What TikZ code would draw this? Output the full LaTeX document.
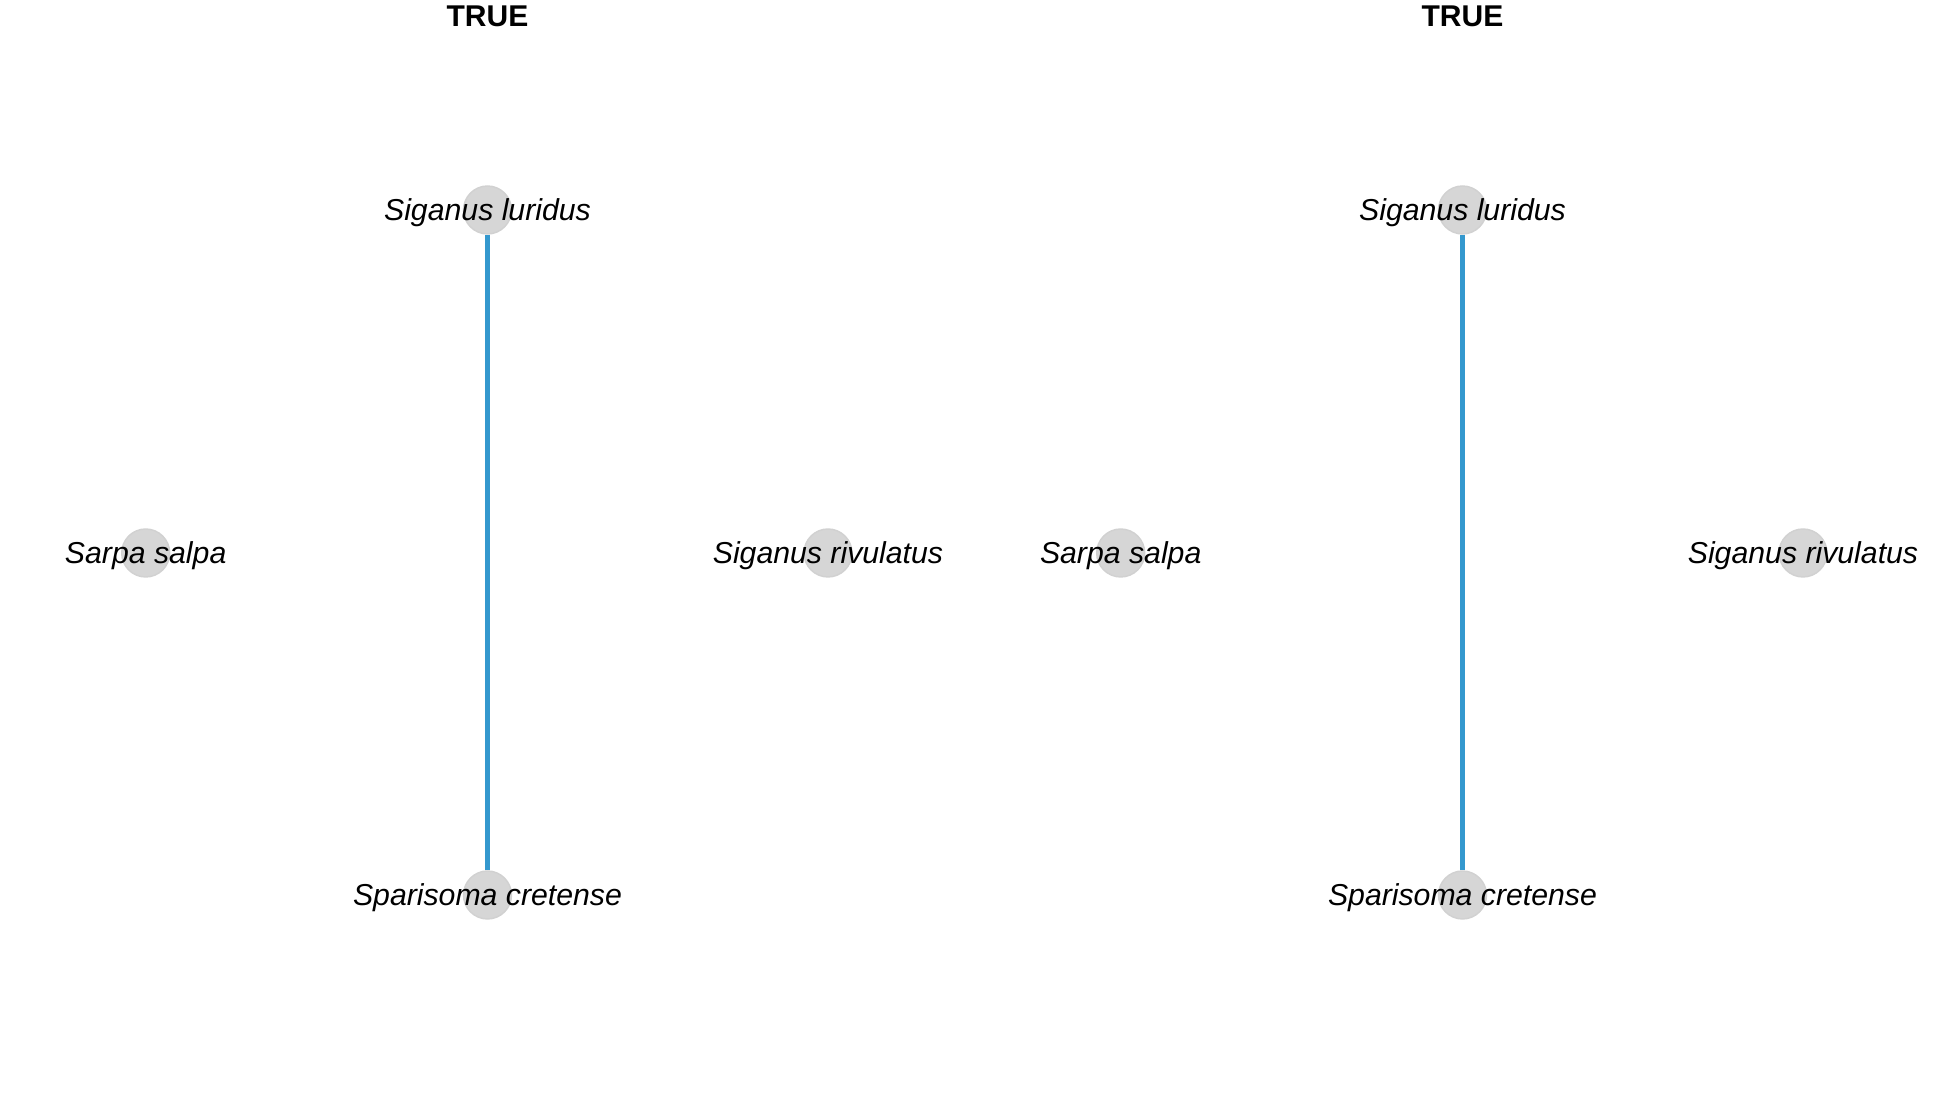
\documentclass[tikz,border=0pt]{standalone}
\usepackage{fontspec}
\setmainfont{Liberation Sans}
\definecolor{edgeblue}{RGB}{52,152,206}
\begin{document}
\begin{tikzpicture}[x=0.01cm, y=-0.01cm,
        species/.style={circle, fill=gray!32, draw=gray!36, thin, minimum size=0.48cm, inner sep=0pt},
        spname/.style={font=\fontsize{8.6}{10}\selectfont\itshape, inner sep=0pt, yshift=-0.8pt},
        paneltitle/.style={font=\fontsize{8.54}{10}\selectfont\bfseries, inner sep=0pt, anchor=base},
        link/.style={edgeblue, line width=1.15pt}
    ]
        \path[use as bounding box] (0, 0) rectangle (1950, 1107);

        \node[paneltitle] (t1) at (487.5, 27) {TRUE};
        \node[paneltitle] (t2) at (1462.5, 27) {TRUE};

        \node[species] (sl1) at (487.5, 210) {};
        \node[species] (ss1) at (145.7, 553) {};
        \node[species] (sr1) at (828, 553) {};
        \node[species] (sc1) at (487.5, 895) {};

        \node[species] (sl2) at (1462.5, 210) {};
        \node[species] (ss2) at (1120.7, 553) {};
        \node[species] (sr2) at (1803, 553) {};
        \node[species] (sc2) at (1462.5, 895) {};

        \draw[link] (sl1) -- (sc1);
        \draw[link] (sl2) -- (sc2);

        \node[spname] (lsl1) at (sl1) {Siganus luridus};
        \node[spname] (lss1) at (ss1) {Sarpa salpa};
        \node[spname] (lsr1) at (sr1) {Siganus rivulatus};
        \node[spname] (lsc1) at (sc1) {Sparisoma cretense};

        \node[spname] (lsl2) at (sl2) {Siganus luridus};
        \node[spname] (lss2) at (ss2) {Sarpa salpa};
        \node[spname] (lsr2) at (sr2) {Siganus rivulatus};
        \node[spname] (lsc2) at (sc2) {Sparisoma cretense};
    \end{tikzpicture}
\end{document}
